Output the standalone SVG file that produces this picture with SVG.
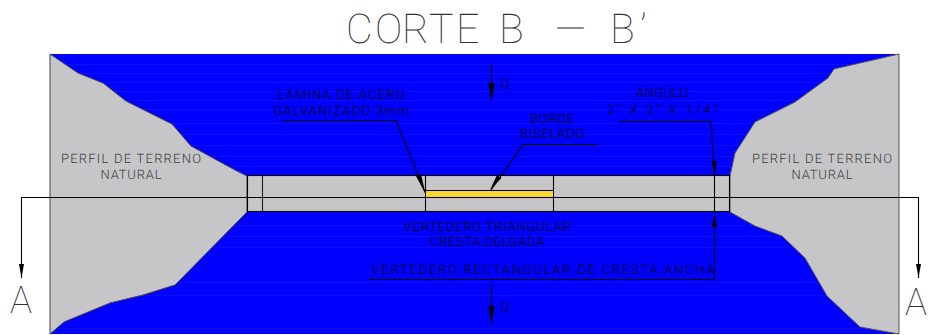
<svg xmlns="http://www.w3.org/2000/svg" width="930" height="335" viewBox="0 0 930 335">
<style>
text{text-rendering:geometricPrecision}
.t{font-family:"Roboto","Liberation Sans",sans-serif;font-weight:300;font-size:13px;text-anchor:middle}
.k{fill:#000}
.g{fill:#3c3c3c}
.big{font-family:"Roboto","Liberation Sans",sans-serif;font-weight:100;fill:#333}
.l{fill:none;stroke:#000;stroke-width:1.1}
.e{fill:none;stroke:#222;stroke-width:1.1}
.a{fill:#000}
.s{stroke:#2a2aff;stroke-width:1}
</style>
<rect id="water" x="50" y="54" width="849" height="280" fill="#0000ff"/>
<g id="stripes" class="s">
<path d="M50 64.500H899M50 73.500H899M50 82.500H899M50 91.500H899M50 100.500H899M50 109.500H899M50 123.500H899M50 134.500H899M50 145.500H899M50 156.500H899M50 166.500H899M50 225.500H899M50 236.500H899M50 247.500H899M50 282.500H899M50 295.500H899M50 328.500H899" opacity=".3"/>
</g>
<g id="terreno-izq">
<path d="M50 54L78 73L103 83L126 101L172 124L191 146L235 170L247 176V212L175 285L143 295L110 303L64 322L50 334Z" fill="#c6c6c8" stroke="#444" stroke-width="1"/>
<text class="t g" x="131" y="163" textLength="140" lengthAdjust="spacing">PERFIL DE TERRENO</text>
<text class="t g" x="131" y="179" textLength="61" lengthAdjust="spacing">NATURAL</text>
</g>
<g id="terreno-der">
<path d="M899 54L834 69L828 78L795 102L755 122L735 153L730 176V212L755 226L782 236L805 258L827 296L860 327L899 334Z" fill="#c6c6c8" stroke="#555" stroke-width="1"/>
<text class="t g" x="822" y="163" textLength="140" lengthAdjust="spacing">PERFIL DE TERRENO</text>
<text class="t g" x="822" y="179" textLength="61" lengthAdjust="spacing">NATURAL</text>
</g>
<g id="vertedero">
<rect x="247.500" y="175.500" width="482" height="36" fill="#c6c6c8" stroke="#000" stroke-width="1.1"/>
<line class="e" x1="262.500" y1="176" x2="262.500" y2="212"/>
<line class="l" x1="425.500" y1="176" x2="425.500" y2="212"/>
<line class="l" x1="553.500" y1="176" x2="553.500" y2="212"/>
<rect x="426" y="190.500" width="127" height="6.500" fill="#fbd530"/>
<line class="l" x1="426" y1="190.500" x2="553" y2="190.500"/>
</g>
<g id="conectores">
<path class="l" d="M21.500 278V197.500H918.500V278"/>
<path class="a" d="M21.500 278L19 264H24Z"/>
<path class="a" d="M918.500 278L916 264H921Z"/>
<path class="l" d="M282 120.500H396L425 192"/>
<path class="a" d="M425.500 194L416 176L421 174Z"/>
<path class="l" d="M598 144.500H523L491 190"/>
<path class="a" d="M490 190L497 175L501.500 178Z"/>
<path class="l" d="M619 121.500H711L714.500 176"/>
<path class="a" d="M714.500 178L712 161H717Z"/>
<path class="l" d="M368.500 279.500H714.500V176"/>
<path class="a" d="M714.500 213L712 227H717Z"/>
<path class="l" d="M491.500 63V100"/>
<path class="a" d="M491.500 102L488.500 83H494.500Z"/>
<path class="l" d="M491.500 285V323"/>
<path class="a" d="M491.500 325L488.500 306H494.500Z"/>
</g>
<g id="textos">
<text class="big" x="346 375 402 429 456 499 555 610 640" y="43" font-size="41">CORTEB—B’</text>
<text class="big" x="10" y="313" font-size="38" textLength="22" lengthAdjust="spacingAndGlyphs">A</text>
<text class="big" x="905" y="315" font-size="38" textLength="22" lengthAdjust="spacingAndGlyphs">A</text>
<text class="t k" x="341" y="99" textLength="127" lengthAdjust="spacing">LÁMINA DE ACERO</text>
<text class="t k" x="341" y="115" textLength="135" lengthAdjust="spacing">GALVANIZADO 3mm</text>
<text class="t k" x="552" y="123" textLength="44" lengthAdjust="spacing">BORDE</text>
<text class="t k" x="552" y="138" textLength="64" lengthAdjust="spacing">BISELADO</text>
<text class="t k" x="662" y="97" textLength="52" lengthAdjust="spacing">ÁNGULO</text>
<text class="t k" x="662" y="114" textLength="110" lengthAdjust="spacing">2" X 2" X 1/4"</text>
<text class="t k" x="487" y="231" textLength="167" lengthAdjust="spacing">VERTEDERO TRIANGULAR</text>
<text class="t k" x="487" y="246" textLength="114" lengthAdjust="spacing">CRESTA DELGADA</text>
<text class="t k" x="543" y="274" textLength="343" lengthAdjust="spacing">VERTEDERO RECTANGULAR DE CRESTA ANCHA</text>
<text class="t k" x="505" y="88">Q</text>
<text class="t k" x="505" y="311">Q</text>
</g>
</svg>
